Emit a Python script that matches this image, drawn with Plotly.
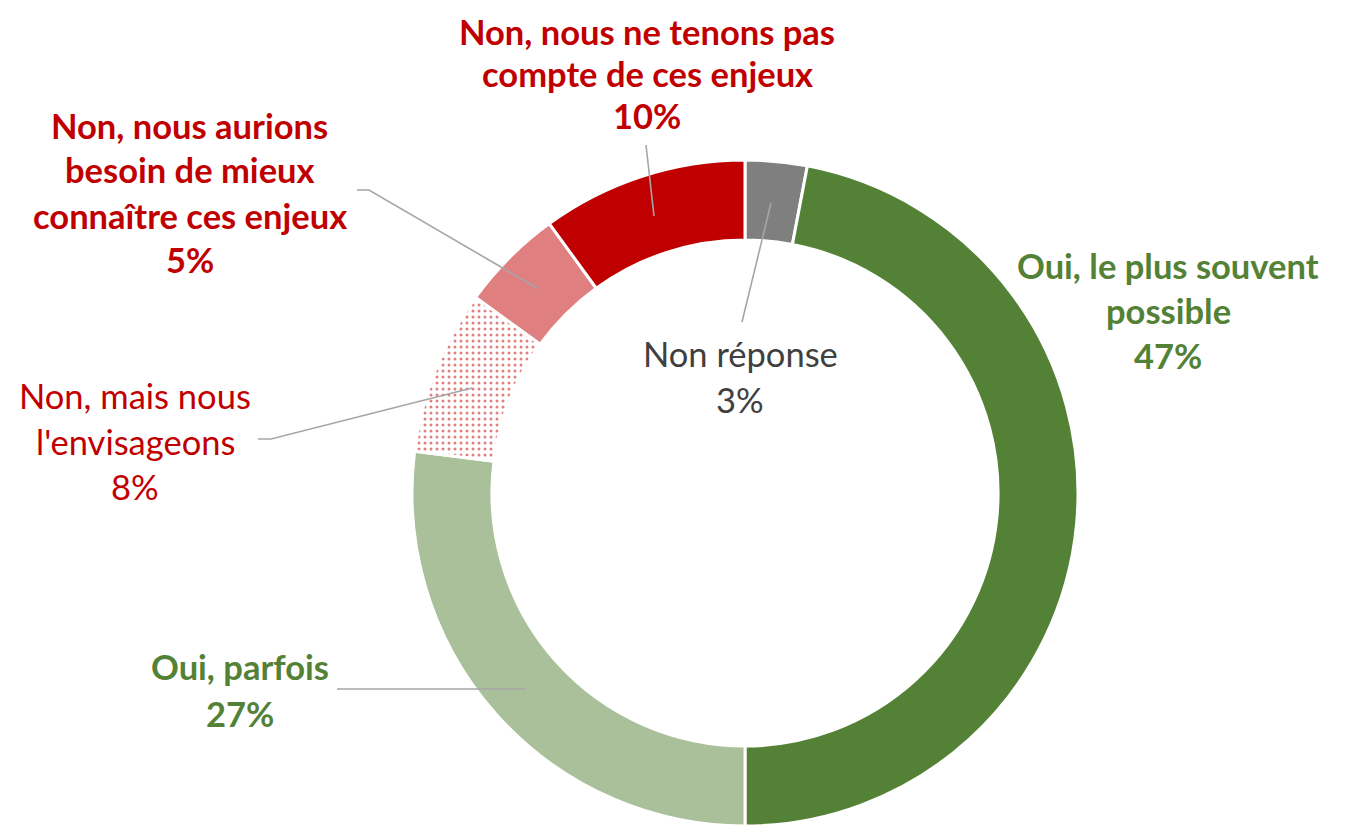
import plotly.graph_objects as go

# ---- data ----
categories = [
    "Non réponse",
    "Oui, le plus souvent possible",
    "Oui, parfois",
    "Non, mais nous l'envisageons",
    "Non, nous aurions besoin de mieux connaître ces enjeux",
    "Non, nous ne tenons pas compte de ces enjeux",
]
values = [3, 47, 27, 8, 5, 10]
label_lines = [
    ["Non réponse"],
    ["Oui, le plus souvent", "possible"],
    ["Oui, parfois"],
    ["Non, mais nous", "l'envisageons"],
    ["Non, nous aurions", "besoin de mieux", "connaître ces enjeux"],
    ["Non, nous ne tenons pas", "compte de ces enjeux"],
]
# 1px checkerboards rendered as their average tone
slice_colors = ["#7F7F7F", "#538135", "#A9C09A", "#C00000", "#DF7F7F", "#C00000"]
pattern_fg = ["#7F7F7F", "#538135", "#538135", "#C00000", "#C00000", "#C00000"]
text_colors = ["#404040", "#538135", "#538135", "#C00000", "#C00000", "#C00000"]
bold_flags = [False, True, True, False, True, True]

# ---- style / layout ----
W, H = 1350, 825
OFF = 8  # page body margin
FONT = "Lato"
FS = 34.5
pattern_shapes = ["", "", "", ".", "", ""]
pattern_sizes = [6, 6, 6, 6, 6, 6]
pattern_solid = [0.2] * 6
# label anchor (center x, first-line center y) and line gap, in screen pixels
label_pos = [(740, 353), (1168, 265), (240, 666), (135, 395), (190, 125), (647, 32)]
label_gap = [47, 45, 47, 46, 45, 42]
leaders = [
    [(742, 322), (771, 203)],
    None,
    [(337, 689), (525, 689)],
    [(258, 439), (271, 439), (472, 388)],
    [(357, 190), (369, 190), (537, 288)],
    [(646, 145), (654, 216)],
]

cx, cy, R = 745, 493, 333


def px(x):
    return (x - OFF) / W


def py(y):
    return 1 - (y - OFF) / H


fig = go.Figure(
    go.Pie(
        labels=categories,
        values=values,
        sort=False,
        direction="clockwise",
        rotation=0,
        hole=0.76,
        textinfo="none",
        hoverinfo="label+percent",
        marker=dict(
            colors=slice_colors,
            line=dict(color="white", width=3),
            pattern=dict(
                shape=pattern_shapes,
                size=pattern_sizes,
                solidity=pattern_solid,
                fgcolor=pattern_fg,
                bgcolor=["white" if s else c for s, c in zip(pattern_shapes, slice_colors)],
                fillmode="overlay",
            ),
        ),
        domain=dict(x=[px(cx - R), px(cx + R)], y=[max(0, py(cy + R)), py(cy - R)]),
        showlegend=False,
    )
)

annotations = []
for lines, v, col, b, (lx, ly), gap in zip(label_lines, values, text_colors, bold_flags, label_pos, label_gap):
    all_lines = lines + [f"{v}%"]
    for i, t in enumerate(all_lines):
        txt = f"<b>{t}</b>" if b else t
        annotations.append(
            dict(
                x=px(lx), y=py(ly + i * gap), xref="paper", yref="paper",
                text=txt, showarrow=False, xanchor="center", yanchor="middle",
                font=dict(family=FONT, size=FS, color=col),
            )
        )

shapes = []
for pts in leaders:
    if not pts:
        continue
    path = "M " + " L ".join(f"{px(x)},{py(y)}" for x, y in pts)
    shapes.append(
        dict(type="path", path=path, xref="paper", yref="paper",
             line=dict(color="#A6A6A6", width=1.6))
    )

fig.update_layout(
    width=W, height=H,
    margin=dict(l=0, r=0, t=0, b=0),
    paper_bgcolor="white", plot_bgcolor="white",
    annotations=annotations,
    shapes=shapes,
    font=dict(family=FONT),
)

fig.write_html("out.html")
